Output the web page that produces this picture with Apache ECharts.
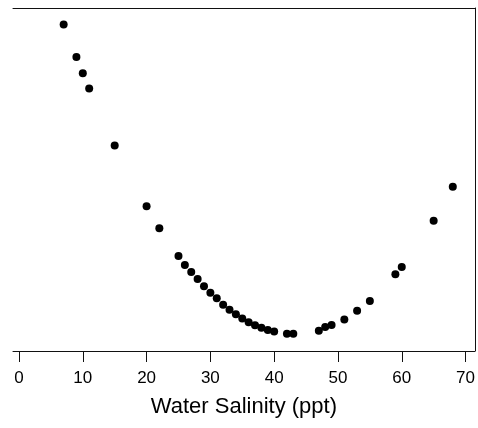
<!DOCTYPE html>
<html>
<head>
<meta charset="utf-8">
<script src="https://cdn.jsdelivr.net/npm/echarts@6/dist/echarts.min.js"></script>
<style>html,body{margin:0;padding:0;background:#fff}#c{width:478px;height:428px}</style>
</head>
<body>
<div id="c"></div>
<script>
const salinity = [7, 9, 10, 11, 15, 20, 22, 25, 26, 27, 28, 29, 30, 31, 32, 33, 34, 35, 36, 37, 38, 39, 40, 42, 43, 47, 48, 49, 51, 53, 55, 59, 60, 65, 68];
const response = [95.2, 85.7, 81.0, 76.5, 59.9, 42.2, 35.8, 27.7, 25.1, 23.0, 21.0, 18.9, 17.0, 15.4, 13.5, 12.0, 10.7, 9.5, 8.4, 7.5, 6.8, 6.1, 5.7, 5.0, 5.0, 5.9, 7.0, 7.6, 9.2, 11.7, 14.6, 22.4, 24.5, 38.0, 47.9];
const xTicks = [0, 10, 20, 30, 40, 50, 60, 70];
const xTitle = 'Water Salinity (ppt)';

const chart = echarts.init(document.getElementById('c'), null, {renderer: 'canvas'});
const lineStyle = {color: '#111', width: 1};
chart.setOption({
  animation: false,
  backgroundColor: '#fff',
  grid: {left: 13, right: 1, top: 8, bottom: 77, containLabel: false},
  xAxis: [{
    type: 'value', min: -0.94, max: 71.45,
    axisLine: {show: true, onZero: false, lineStyle: lineStyle},
    axisTick: {show: true, inside: false, length: 11, lineStyle: lineStyle, customValues: xTicks},
    axisLabel: {show: true, margin: 19, color: '#000', fontFamily: 'Liberation Sans, Arial, sans-serif', fontSize: 17, customValues: xTicks, showMinLabel: true, showMaxLabel: true},
    splitLine: {show: false},
    name: xTitle, nameLocation: 'middle', nameGap: 45,
    nameTextStyle: {color: '#000', fontFamily: 'Liberation Sans, Arial, sans-serif', fontSize: 22}
  }, {
    type: 'value', position: 'top', min: -0.94, max: 71.45,
    axisLine: {show: true, onZero: false, lineStyle: lineStyle},
    axisTick: {show: false}, axisLabel: {show: false}, splitLine: {show: false}
  }],
  yAxis: {
    type: 'value', min: 0, max: 100, position: 'right',
    axisLine: {show: true, onZero: false, lineStyle: lineStyle},
    axisTick: {show: false}, axisLabel: {show: false}, splitLine: {show: false}
  },
  series: [{
    type: 'scatter',
    xAxisIndex: 0,
    data: salinity.map((s, i) => [s, response[i]]),
    symbol: 'circle', symbolSize: 8,
    itemStyle: {color: '#000', opacity: 1}
  }]
});
</script>
</body>
</html>
